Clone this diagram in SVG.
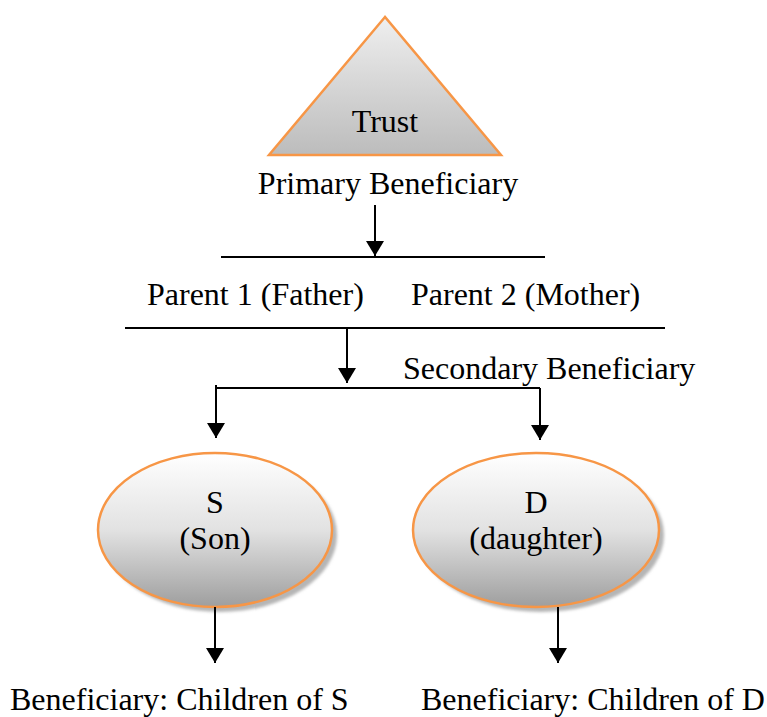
<svg xmlns="http://www.w3.org/2000/svg" width="767" height="717" viewBox="0 0 767 717">
<style>
text{font-family:"Liberation Serif","Times New Roman",serif;font-size:32px;fill:#000}
.c{text-anchor:middle}
.ln{stroke:#000;stroke-width:2;fill:none}
.nd{stroke:#f79646;stroke-width:2.5}
</style>
<defs>
<linearGradient id="gt" x1="0" y1="0" x2="0" y2="1">
<stop offset="0" stop-color="#efefef"/><stop offset="1" stop-color="#bcbcbc"/>
</linearGradient>
<linearGradient id="ge" x1="0" y1="0" x2="0" y2="1">
<stop offset="0" stop-color="#ffffff"/><stop offset="0.5" stop-color="#e2e2e2"/><stop offset="1" stop-color="#9e9e9e"/>
</linearGradient>
<filter id="sh" x="-10%" y="-10%" width="130%" height="130%">
<feGaussianBlur stdDeviation="1.5"/>
</filter>
<marker id="ah" markerWidth="16" markerHeight="18" refX="15" refY="9" orient="auto" markerUnits="userSpaceOnUse" viewBox="0 0 16 18">
<path d="M0,0 L15,9 L0,18 Z" fill="#000"/>
</marker>
</defs>

<g id="trust">
<path d="M271,159 L503,159" stroke="#d0d0d0" stroke-width="3" filter="url(#sh)"/>
<polygon class="nd" points="385,17 269,155 501,155" fill="url(#gt)"/>
<text class="c" x="385" y="132">Trust</text>
</g>

<g id="labels">
<text class="c" x="388" y="194">Primary Beneficiary</text>
<text x="147" y="305">Parent 1 (Father)</text>
<text x="411" y="305">Parent 2 (Mother)</text>
<text x="403" y="379">Secondary Beneficiary</text>
</g>

<g id="son">
<ellipse cx="220" cy="535" rx="117" ry="77" fill="#b5b5b5" filter="url(#sh)"/>
<ellipse class="nd" cx="215" cy="530" rx="117" ry="77" fill="url(#ge)"/>
<text class="c" x="215" y="513">S</text>
<text class="c" x="215" y="549">(Son)</text>
</g>

<g id="daughter">
<ellipse cx="541" cy="535" rx="123" ry="77" fill="#b5b5b5" filter="url(#sh)"/>
<ellipse class="nd" cx="536" cy="530" rx="123" ry="77" fill="url(#ge)"/>
<text class="c" x="536" y="513">D</text>
<text class="c" x="536" y="549">(daughter)</text>
</g>

<g id="childS"><text x="10" y="710">Beneficiary: Children of S</text></g>
<g id="childD"><text x="421" y="710">Beneficiary: Children of D</text></g>

<g id="connectors">
<line class="ln" x1="375" y1="205" x2="375" y2="256" marker-end="url(#ah)"/>
<line class="ln" x1="221" y1="257" x2="545" y2="257"/>
<line class="ln" x1="125" y1="328" x2="665" y2="328"/>
<line class="ln" x1="347" y1="328" x2="347" y2="383" marker-end="url(#ah)"/>
<line class="ln" x1="216" y1="388" x2="540" y2="388"/>
<line class="ln" x1="216" y1="385" x2="216" y2="438" marker-end="url(#ah)"/>
<line class="ln" x1="540" y1="388" x2="540" y2="440" marker-end="url(#ah)"/>
<line class="ln" x1="215" y1="607" x2="215" y2="663" marker-end="url(#ah)"/>
<line class="ln" x1="558" y1="607" x2="558" y2="663" marker-end="url(#ah)"/>
</g>
</svg>
